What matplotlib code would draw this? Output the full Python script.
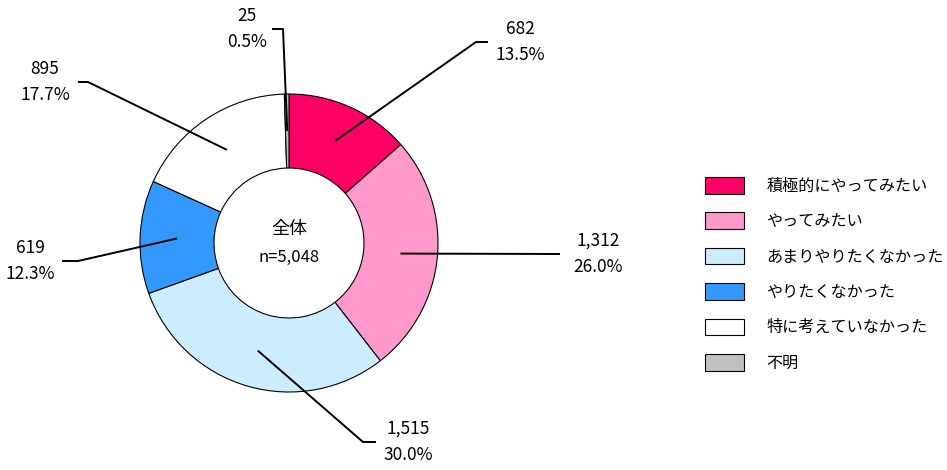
import numpy as np
import matplotlib.pyplot as plt

plt.rcParams['font.family'] = ['Noto Sans CJK JP', 'DejaVu Sans']

labels = ['積極的にやってみたい', 'やってみたい', 'あまりやりたくなかった',
          'やりたくなかった', '特に考えていなかった', '不明']
counts = [682, 1312, 1515, 619, 895, 25]
colors = ['#FF0066', '#FF99CC', '#CCECFF', '#3399FF', '#FFFFFF', '#C0C0C0']
total_label = '全体'
n_label = 'n=5,048'

# leader line elbow (x, y), line end x, text centre x (pixel coords, y from top)
elbows = [(476, 42), (560, 254), (363, 442), (78, 261), (88, 82), (283, 29)]
ends = [488, 560, 376, 62, 78, 272]
text_x = [520, 598, 408, 30, 45, 247]

W, H = 947, 470
fig = plt.figure(figsize=(W / 100, H / 100), dpi=100)
ax = fig.add_axes([0, 0, 1, 1])

cx, cy, R = 289, H - 243, 149
wedges, _ = ax.pie(counts, colors=colors, startangle=90, counterclock=False,
                   center=(cx, cy), radius=R, frame=True,
                   wedgeprops=dict(width=74, edgecolor='black', linewidth=0.8))
ax.set_xlim(0, W)
ax.set_ylim(0, H)
ax.set_aspect('equal')
ax.axis('off')

total = sum(counts)
for w, c, (ex, ey), endx, tx in zip(wedges, counts, elbows, ends, text_x):
    ang = np.deg2rad((w.theta1 + w.theta2) / 2)
    px, py = cx + 112 * np.cos(ang), cy + 112 * np.sin(ang)
    ax.plot([px, ex, endx], [py, H - ey, H - ey], color='black', lw=1.4,
            solid_capstyle='butt')
    ty = H - ey
    ax.text(tx, ty + 13, f'{c:,}', ha='center', va='center', fontsize=12.5)
    ax.text(tx, ty - 13, f'{c / total * 100:.1f}%', ha='center', va='center',
            fontsize=12.5)

ax.text(cx, H - 229, total_label, ha='center', va='center', fontsize=13)
ax.text(cx, H - 257, n_label, ha='center', va='center', fontsize=12)

ax.legend(wedges, labels, loc='upper left', bbox_to_anchor=(705 / W, 1 - 177 / H),
          frameon=False, fontsize=11.6, handlelength=2.4, handleheight=1.2,
          labelspacing=1.1, handletextpad=1.4, borderpad=0, borderaxespad=0)

fig.savefig('out.png', dpi=100)
